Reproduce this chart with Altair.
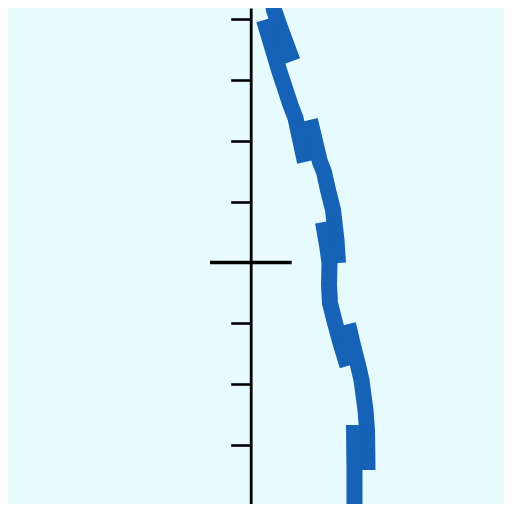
import altair as alt
import pandas as pd

# Axis tick values (data units; one unit = one tick interval)
tick_values = [-4, -3, -2, -1, 1, 2, 3, 4]
cross_x = [-0.669, 0.674]

# Offset line segments (alternating between two parallel tracks)
seg1_x = [0.334, 0.383, 0.498, 0.688]
seg1_y = [4.482, 4.153, 3.824, 3.314]
seg2_x = [0.219, 0.317, 0.465, 0.655, 0.737, 0.893]
seg2_y = [3.988, 3.660, 3.166, 2.590, 2.377, 1.653]
seg3_x = [0.974, 1.140, 1.206, 1.271, 1.354, 1.411, 1.436]
seg3_y = [2.344, 1.653, 1.488, 1.192, 0.863, 0.370, -0.008]
seg4_x = [1.189, 1.255, 1.296, 1.288, 1.304, 1.387, 1.477, 1.592]
seg4_y = [0.666, 0.288, -0.008, -0.370, -0.666, -0.995, -1.324, -1.702]
seg5_x = [1.600, 1.674, 1.757, 1.822, 1.888, 1.913, 1.921]
seg5_y = [-1.012, -1.324, -1.653, -1.933, -2.426, -2.755, -3.413]
seg6_x = [1.699, 1.707, 1.707]
seg6_y = [-2.673, -3.413, -4.235]

segments = [(seg1_x, seg1_y), (seg2_x, seg2_y), (seg3_x, seg3_y),
            (seg4_x, seg4_y), (seg5_x, seg5_y), (seg6_x, seg6_y)]
rows = []
for i, (xs, ys) in enumerate(segments):
    for j, (xv, yv) in enumerate(zip(xs, ys)):
        rows.append({"seg": i, "ord": j, "x": xv, "y": yv})
line_df = pd.DataFrame(rows)

x_scale = alt.Scale(domain=[-3.9918, 4.1661], nice=False, zero=False)
y_scale = alt.Scale(domain=[-3.9720, 4.1859], nice=False, zero=False)

BLUE = "#1662b6"

line = alt.Chart(line_df).mark_line(
    strokeWidth=16, strokeCap="butt", strokeJoin="miter", color=BLUE, clip=True
).encode(
    x=alt.X("x:Q", scale=x_scale, axis=None),
    y=alt.Y("y:Q", scale=y_scale, axis=alt.Axis(
        orient="left", offset=-242.7, values=tick_values, labels=False,
        title=None, grid=False, ticks=True, tickSize=20, tickWidth=2.6,
        tickColor="black", domain=True, domainColor="black", domainWidth=2.8,
    )),
    detail="seg:N",
    order="ord:Q",
)

cross_df = pd.DataFrame({"x": [cross_x[0]], "x2": [cross_x[1]], "y": [0]})
cross = alt.Chart(cross_df).mark_rule(color="black", strokeWidth=3.4).encode(
    x=alt.X("x:Q", scale=x_scale, axis=None),
    x2="x2:Q",
    y=alt.Y("y:Q", scale=y_scale),
)

chart = alt.layer(cross, line).properties(
    width=496, height=496, padding=0,
    autosize=alt.AutoSizeParams(type="none"),
    background="#e7fbfe",
).configure_view(stroke=None, fill="#e7fbfe")

chart.save("out.html", embed_options={"renderer": "svg", "actions": False})
